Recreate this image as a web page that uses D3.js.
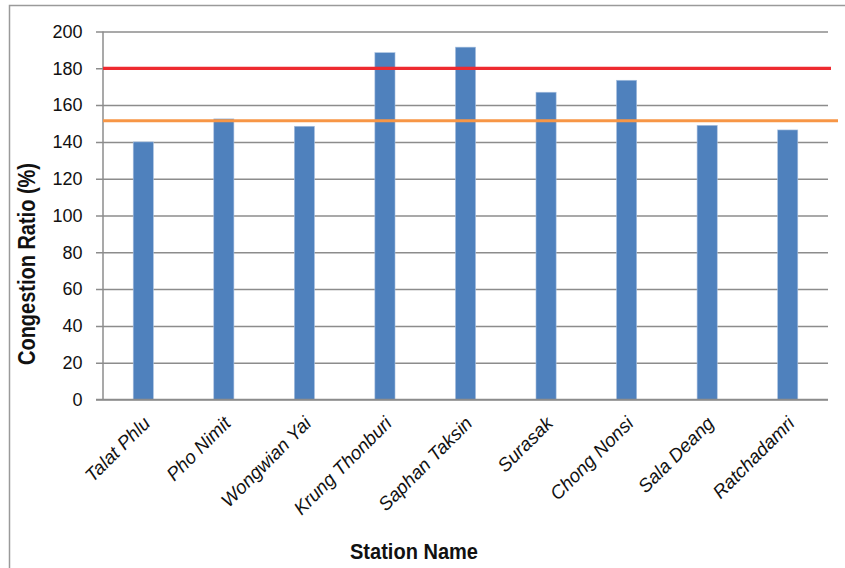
<!DOCTYPE html>
<html>
<head>
<meta charset="utf-8">
<script src="https://cdn.jsdelivr.net/npm/d3@7"></script>
<style>
  body { margin: 0; background: #fff; }
  svg { display: block; }
  text { font-family: "Liberation Sans", Arial, sans-serif; }
</style>
</head>
<body>
<svg id="chart" width="845" height="568"></svg>
<script>
// Station names along the line
const stations = ["Talat Phlu", "Pho Nimit", "Wongwian Yai", "Krung Thonburi", "Saphan Taksin",
                  "Surasak", "Chong Nonsi", "Sala Deang", "Ratchadamri"];
// Congestion ratio (%) per station
const congestion = [140, 152.5, 148.5, 188.5, 191.5, 167, 173.5, 149, 146.5];
// Reference levels drawn as horizontal lines
const upperLevel = 180;
const meanLevel = 151.5;
// Y axis ticks
const yTicks = [0, 20, 40, 60, 80, 100, 120, 140, 160, 180, 200];

const svg = d3.select("#chart");

// Outer frame
svg.append("rect")
  .attr("x", 9.5).attr("y", 5.5)
  .attr("width", 845).attr("height", 580)
  .attr("fill", "none").attr("stroke", "#9a9a9a").attr("stroke-width", 1.5);

const plotL = 103, plotR = 828, plotT = 31.5, plotB = 399.5;

const x = d3.scaleBand().domain(stations).range([plotL, plotR]).paddingInner(0.75).paddingOuter(0.375);
const y = d3.scaleLinear().domain([0, 200]).range([plotB, plotT]);

// Horizontal gridlines with tick stubs on the left
const yAxis = d3.axisLeft(y).tickValues(yTicks).tickSize(-(plotR - plotL)).tickSizeOuter(0).tickPadding(20.5);
const gy = svg.append("g").attr("transform", `translate(${plotL},0)`).call(yAxis);
gy.select(".domain").remove();
gy.selectAll(".tick line")
  .attr("x1", -7).attr("x2", plotR - plotL)
  .attr("stroke", "#8c8c8c").attr("stroke-width", 1.5);
gy.selectAll(".tick text")
  .attr("font-family", "'Liberation Sans', Arial, sans-serif")
  .attr("font-size", 18).attr("fill", "#111");

// Vertical axis line
svg.append("line")
  .attr("x1", plotL).attr("x2", plotL).attr("y1", plotT).attr("y2", plotB)
  .attr("stroke", "#8c8c8c").attr("stroke-width", 1.5);

// Bars
svg.append("g").selectAll("rect")
  .data(stations.map((s, i) => ({ s, v: congestion[i] })))
  .join("rect")
  .attr("x", d => x(d.s))
  .attr("y", d => y(d.v))
  .attr("width", x.bandwidth())
  .attr("height", d => y(0) - y(d.v))
  .attr("fill", "#4f81bd")
  .attr("stroke", "#a9c1e0").attr("stroke-width", 0.6);

// Bottom axis line
svg.append("line")
  .attr("x1", plotL - 7).attr("x2", plotR).attr("y1", plotB).attr("y2", plotB)
  .attr("stroke", "#8c8c8c").attr("stroke-width", 1.5);

// Reference lines
svg.append("line")
  .attr("x1", plotL).attr("x2", 831).attr("y1", y(upperLevel)).attr("y2", y(upperLevel))
  .attr("stroke", "#ee2a30").attr("stroke-width", 3.2);
svg.append("line")
  .attr("x1", plotL).attr("x2", 838).attr("y1", y(meanLevel)).attr("y2", y(meanLevel))
  .attr("stroke", "#f79646").attr("stroke-width", 3.2);

// Category labels, rotated
svg.append("g").selectAll("text")
  .data(stations)
  .join("text")
  .attr("transform", d => `translate(${x(d) + x.bandwidth() / 2 + 8},${plotB + 25}) rotate(-45)`)
  .attr("text-anchor", "end")
  .attr("font-style", "italic")
  .attr("font-size", 18.8)
  .attr("fill", "#111")
  .text(d => d);

// Axis titles (condensed bold)
svg.append("text")
  .attr("transform", `translate(35,264) rotate(-90)`)
  .attr("text-anchor", "middle")
  .attr("font-weight", "bold").attr("font-size", 23).attr("fill", "#111")
  .attr("textLength", 202).attr("lengthAdjust", "spacingAndGlyphs")
  .text("Congestion Ratio (%)");

svg.append("text")
  .attr("x", 414).attr("y", 559)
  .attr("text-anchor", "middle")
  .attr("font-weight", "bold").attr("font-size", 22).attr("fill", "#111")
  .attr("textLength", 128).attr("lengthAdjust", "spacingAndGlyphs")
  .text("Station Name");
</script>
</body>
</html>
